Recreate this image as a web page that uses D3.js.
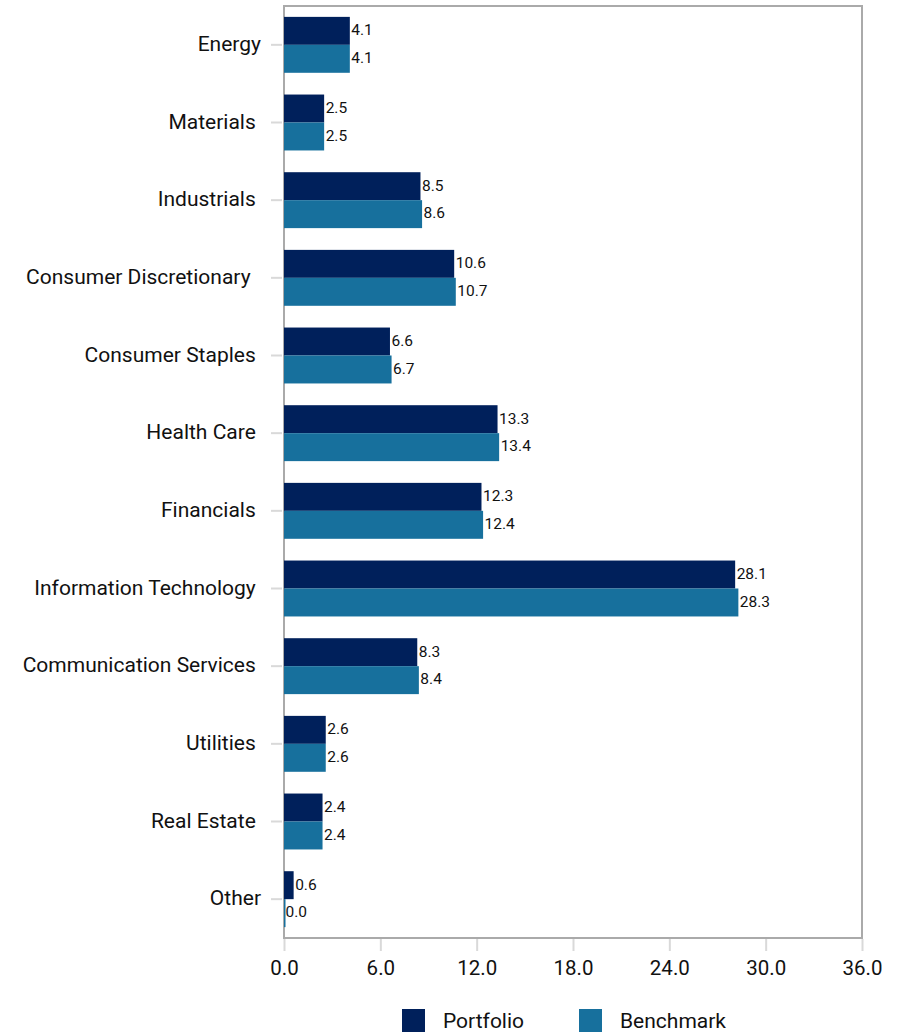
<!DOCTYPE html>
<html>
<head>
<meta charset="utf-8">
<script src="https://cdn.jsdelivr.net/npm/d3@7"></script>
<style>
  body { margin: 0; background: #fff; }
  text { font-family: Roboto, "Noto Sans", sans-serif; }
</style>
</head>
<body>
<svg width="900" height="1033"></svg>
<script>
var sectors = ["Energy", "Materials ", "Industrials ", "Consumer Discretionary  ", "Consumer Staples ",
  "Health Care ", "Financials ", "Information Technology ", "Communication Services ",
  "Utilities ", "Real Estate ", "Other"];
var portfolio = [4.1, 2.5, 8.5, 10.6, 6.6, 13.3, 12.3, 28.1, 8.3, 2.6, 2.4, 0.6];
var benchmark = [4.1, 2.5, 8.6, 10.7, 6.7, 13.4, 12.4, 28.3, 8.4, 2.6, 2.4, 0.0];
var xTicks = [0, 6, 12, 18, 24, 30, 36];
var seriesNames = ["Portfolio", "Benchmark"];
var colors = ["#00205b", "#17709d"];

var svg = d3.select("svg");
var plotL = 284, plotR = 862, plotT = 6, plotB = 938;

var x = d3.scaleLinear().domain([0, 36]).range([plotL, plotR]);
var y = d3.scaleBand().domain(sectors).range([plotT, plotB]).paddingInner(0.28).paddingOuter(0.14);
var sub = d3.scaleBand().domain([0, 1]).range([0, y.bandwidth()]);

// frame
svg.append("rect")
  .attr("x", plotL).attr("y", plotT)
  .attr("width", plotR - plotL).attr("height", plotB - plotT)
  .style("fill", "none").style("stroke", "#aaa").style("stroke-width", "2px");

// y axis ticks + labels
var yg = svg.append("g").attr("transform", "translate(" + (plotL - 2) + ",0)")
  .call(d3.axisLeft(y).tickSize(11).tickPadding(10));
yg.select(".domain").remove();
yg.selectAll("line").style("stroke", "#d9d9d9").style("stroke-width", "2px");
yg.selectAll("text").attr("dy", "0.3em").style("font-size", "21px").style("fill", "#111").style("white-space", "pre");

// x axis
var xg = svg.append("g").attr("transform", "translate(0," + (plotB + 1) + ")")
  .call(d3.axisBottom(x).tickValues(xTicks).tickFormat(d3.format(".1f")).tickSize(12).tickPadding(9));
xg.select(".domain").remove();
xg.selectAll("line").style("stroke", "#d9d9d9").style("stroke-width", "2px");
xg.selectAll("text").style("font-size", "20.5px").style("fill", "#111");

// bars
[portfolio, benchmark].forEach(function(vals, s) {
  var g = svg.append("g");
  g.selectAll("rect")
    .data(vals)
    .enter()
    .append("rect")
    .attr("x", x(0))
    .attr("y", function(d, i) { return y(sectors[i]) + sub(s); })
    .attr("width", function(d) { return Math.max(x(d) - x(0), 1.5); })
    .attr("height", sub.bandwidth())
    .style("fill", colors[s]);
  g.selectAll("text")
    .data(vals)
    .enter()
    .append("text")
    .attr("x", function(d) { return x(d) + 1.5; })
    .attr("y", function(d, i) { return y(sectors[i]) + sub(s) + sub.bandwidth() / 2; })
    .attr("dy", "0.28em")
    .style("font-size", "15.5px")
    .style("fill", "#111")
    .text(function(d) { return d.toFixed(1); });
});

// legend
var legX = [402, 579];
seriesNames.forEach(function(name, s) {
  svg.append("rect").attr("x", legX[s]).attr("y", 1009).attr("width", 23).attr("height", 23).style("fill", colors[s]);
  svg.append("text").attr("x", legX[s] + 41).attr("y", 1021).attr("dy", "0.35em")
    .style("font-size", "21px").style("fill", "#111").text(name);
});
</script>
</body>
</html>
